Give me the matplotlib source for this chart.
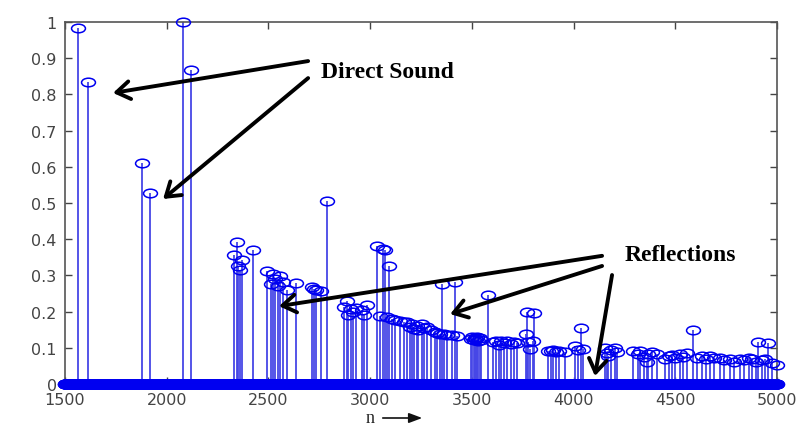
import numpy as np
import matplotlib
matplotlib.use("Agg")
import matplotlib.pyplot as plt
from matplotlib.path import Path
from matplotlib.transforms import Affine2D
from matplotlib.patches import FancyArrowPatch

# impulse positions (sample index n) and amplitudes
direct_n = [1565, 1615, 1877, 1918, 2082, 2119]
direct_h = [0.983, 0.833, 0.61, 0.528, 1.0, 0.867]

refl_n = [2331, 2345, 2352, 2360, 2368, 2423,
          2491, 2511, 2522, 2532, 2545, 2556, 2573, 2593, 2636,
          2713, 2724, 2734, 2757, 2786,
          2872, 2885, 2893, 2905, 2914, 2930, 2958, 2970, 2983,
          3032, 3049, 3062, 3073, 3084, 3094, 3108,
          3122, 3145, 3165, 3180, 3195, 3204, 3215, 3229, 3237, 3253, 3265,
          3278, 3300, 3319, 3330, 3343, 3352, 3365, 3376, 3400, 3417, 3425,
          3495, 3502, 3508, 3514, 3520, 3526, 3532, 3538, 3545, 3581,
          3605, 3620, 3632, 3645, 3660, 3675, 3690, 3705, 3722,
          3765, 3770, 3778, 3785, 3800, 3806,
          3876, 3890, 3900, 3915, 3930, 3958,
          4007, 4020, 4035, 4045,
          4155, 4163, 4171, 4185, 4204, 4212,
          4294, 4315, 4327, 4345, 4359, 4368, 4384, 4409,
          4450, 4470, 4482, 4500, 4523, 4540, 4555, 4589, 4605, 4630, 4650,
          4671, 4690, 4720, 4740, 4769, 4790, 4818, 4840, 4860, 4876, 4895,
          4908, 4925, 4940, 4957, 4975, 4998]
refl_h = [0.357, 0.393, 0.327, 0.315, 0.342, 0.369,
          0.313, 0.276, 0.305, 0.29, 0.27, 0.298, 0.282, 0.26, 0.279,
          0.267, 0.262, 0.26, 0.258, 0.505,
          0.214, 0.228, 0.19, 0.207, 0.2, 0.21, 0.203, 0.19, 0.219,
          0.382, 0.188, 0.373, 0.37, 0.185, 0.327, 0.18,
          0.178, 0.175, 0.172, 0.17, 0.158, 0.166, 0.152, 0.161, 0.15, 0.165, 0.155,
          0.158, 0.148, 0.143, 0.14, 0.138, 0.277, 0.137, 0.135, 0.134, 0.282, 0.133,
          0.125, 0.13, 0.122, 0.128, 0.125, 0.13, 0.12, 0.126, 0.122, 0.247,
          0.115, 0.12, 0.108, 0.118, 0.113, 0.12, 0.11, 0.117, 0.112,
          0.138, 0.198, 0.115, 0.097, 0.12, 0.196,
          0.092, 0.09, 0.093, 0.088, 0.091, 0.087,
          0.106, 0.095, 0.155, 0.098,
          0.1, 0.085, 0.078, 0.095, 0.1, 0.087,
          0.092, 0.082, 0.09, 0.075, 0.06, 0.083, 0.089, 0.082,
          0.07, 0.078, 0.08, 0.072, 0.083, 0.075, 0.086, 0.148, 0.073, 0.078, 0.068,
          0.077, 0.072, 0.073, 0.065, 0.07, 0.062, 0.069, 0.066, 0.072, 0.069, 0.06,
          0.117, 0.065, 0.07, 0.114, 0.058, 0.052]

n_start, n_end = 1500, 5000
yticks = [0, 0.1, 0.2, 0.3, 0.4, 0.5, 0.6, 0.7, 0.8, 0.9, 1]
ytick_labels = ["0", "0.1", "0.2", "0.3", "0.4", "0.5", "0.6", "0.7", "0.8", "0.9", "1"]
xticks = [1500, 2000, 2500, 3000, 3500, 4000, 4500, 5000]

# full impulse response, zero everywhere except the impulses
n = np.arange(n_start, n_end + 1)
h = np.zeros(len(n))
h[np.array(direct_n) - n_start] = direct_h
h[np.array(refl_n) - n_start] = refl_h

fig = plt.figure(figsize=(7.99, 4.27), dpi=100)
ax = fig.add_axes([0.0814, 0.0984, 0.8911, 0.8478])

blue = "#0000f0"
markerline, stemlines, baseline = ax.stem(n, h, basefmt=" ")
stemlines.set_color("#4646e6")
stemlines.set_linewidth(1.3)
# MATLAB-like circles, a bit squashed as in the picture
ellipse = Path.unit_circle().transformed(Affine2D().scale(1.0, 0.62))
markerline.set_marker(ellipse)
markerline.set_markersize(10)
markerline.set_markerfacecolor("none")
markerline.set_markeredgecolor(blue)
markerline.set_markeredgewidth(1.1)
markerline.set_clip_on(False)
markerline.set_zorder(3)

ax.set_xlim(n_start, n_end)
ax.set_ylim(0, 1)
ax.set_xticks(xticks)
ax.set_yticks(yticks)
ax.set_yticklabels(ytick_labels)
ax.tick_params(direction="in", top=True, right=True, length=5, width=1,
               color="#444444", labelsize=11.5, labelcolor="#444444", pad=6)
for s in ax.spines.values():
    s.set_color("#555555")
    s.set_linewidth(1.2)

txt = dict(family=["Liberation Serif", "DejaVu Serif"], weight="bold",
           fontsize=17, color="black")
ax.text(3083, 0.862, "Direct Sound", ha="center", va="center", **txt)
ax.text(4523, 0.359, "Reflections", ha="center", va="center", **txt)

arrow = dict(arrowstyle="->,head_length=0.6,head_width=0.4", lw=2.8,
             color="black", shrinkA=0, shrinkB=0, mutation_scale=16)
ax.annotate("", xy=(1736, 0.804), xytext=(2695, 0.892), arrowprops=arrow)
ax.annotate("", xy=(1982, 0.511), xytext=(2695, 0.845), arrowprops=arrow)
ax.annotate("", xy=(2552, 0.215), xytext=(4140, 0.354), arrowprops=arrow)
ax.annotate("", xy=(3393, 0.193), xytext=(4140, 0.326), arrowprops=arrow)
ax.annotate("", xy=(4105, 0.022), xytext=(4189, 0.301), arrowprops=arrow)

# x label "n ->"
fig.text(370 / 799, 8 / 427, "n", family=["Liberation Serif", "DejaVu Serif"],
         fontsize=13, color="#222222", ha="center", va="center")
fig.add_artist(FancyArrowPatch(
    (380 / 799, 8 / 427), (425 / 799, 8 / 427), transform=fig.transFigure,
    arrowstyle="-|>,head_length=0.8,head_width=0.3", mutation_scale=10,
    lw=1.2, color="#111111"))

fig.savefig("out.png", dpi=100)
